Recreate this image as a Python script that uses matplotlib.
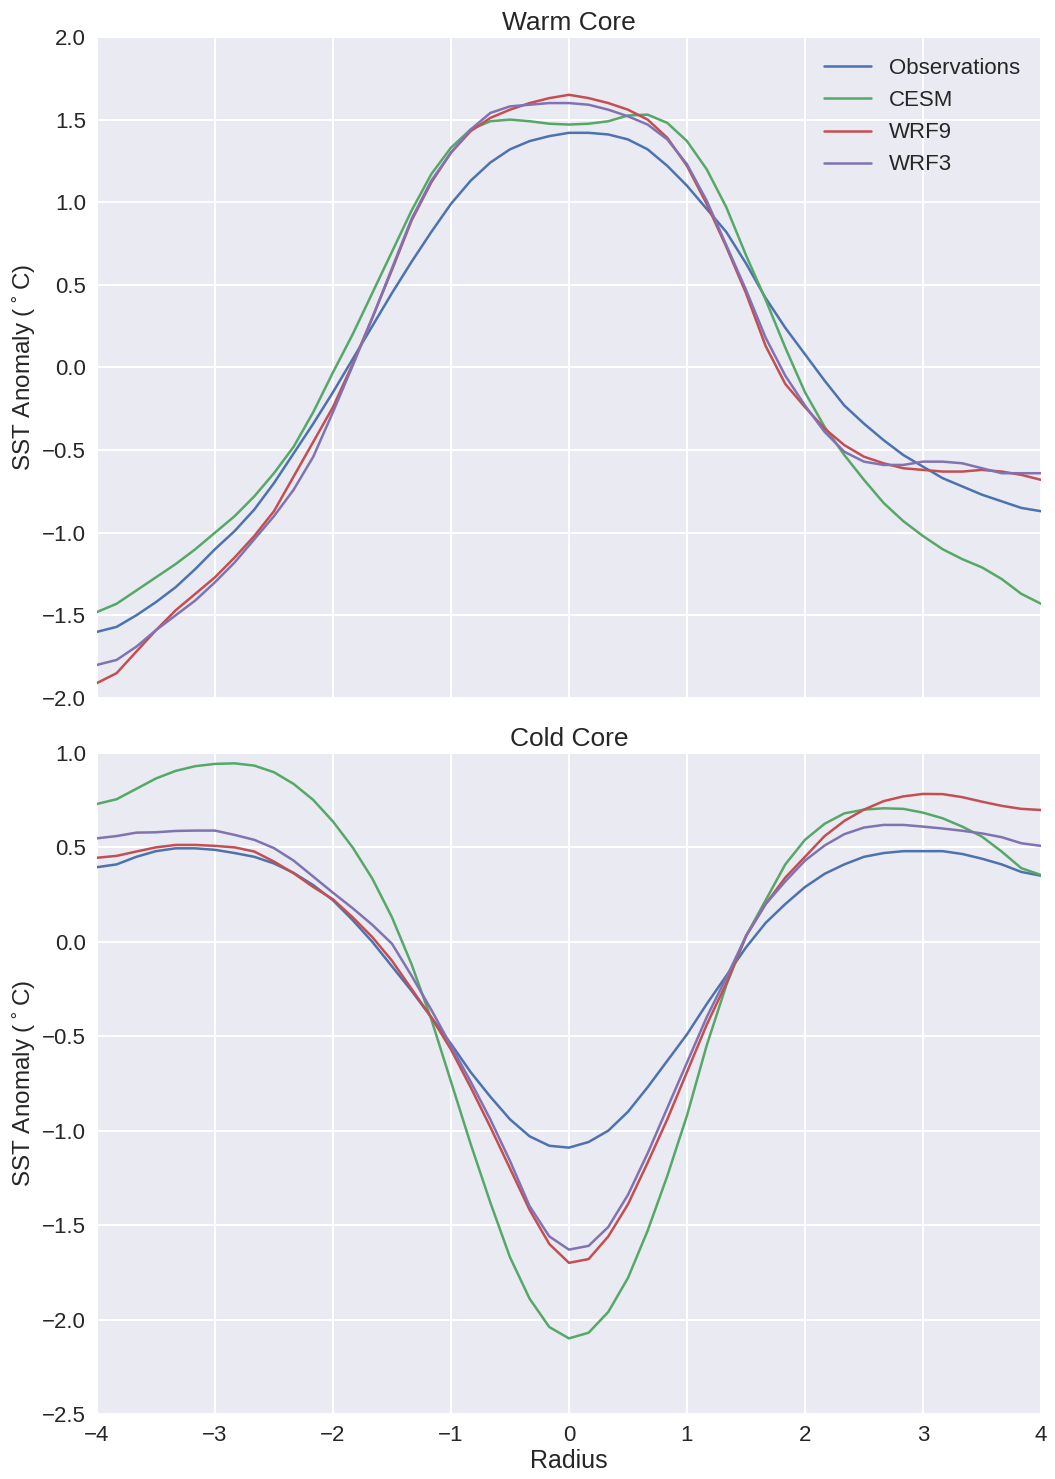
import numpy as np
import matplotlib
matplotlib.use("Agg")
import matplotlib.pyplot as plt
import seaborn as sns

# radius sampled every 1/6 between -4 and 4
radius = np.linspace(-4, 4, 49)

series_names = ["Observations", "CESM", "WRF9", "WRF3"]
series_colors = ["#4C72B0", "#55A868", "#C44E52", "#8172B2"]

warm_obs = [-1.60, -1.57, -1.50, -1.42, -1.33, -1.22, -1.10, -0.99, -0.86, -0.70,
            -0.52, -0.34, -0.15, 0.05, 0.25, 0.45, 0.64, 0.82, 0.99, 1.13,
            1.24, 1.32, 1.37, 1.40, 1.42, 1.42, 1.41, 1.38, 1.32, 1.22,
            1.10, 0.96, 0.82, 0.63, 0.42, 0.24, 0.08, -0.08, -0.23, -0.34,
            -0.44, -0.53, -0.60, -0.67, -0.72, -0.77, -0.81, -0.85, -0.87]
warm_cesm = [-1.48, -1.43, -1.35, -1.27, -1.19, -1.10, -1.00, -0.90, -0.78, -0.64,
             -0.48, -0.27, -0.03, 0.20, 0.45, 0.70, 0.95, 1.17, 1.33, 1.44,
             1.49, 1.50, 1.49, 1.475, 1.47, 1.475, 1.49, 1.525, 1.53, 1.48,
             1.37, 1.20, 0.97, 0.68, 0.41, 0.12, -0.15, -0.36, -0.53, -0.68,
             -0.82, -0.93, -1.02, -1.10, -1.16, -1.21, -1.28, -1.37, -1.43]
warm_wrf9 = [-1.91, -1.85, -1.72, -1.59, -1.47, -1.37, -1.27, -1.15, -1.02, -0.87,
             -0.66, -0.45, -0.24, 0.02, 0.30, 0.59, 0.89, 1.12, 1.30, 1.43,
             1.51, 1.56, 1.60, 1.63, 1.65, 1.63, 1.60, 1.56, 1.50, 1.39,
             1.22, 0.99, 0.73, 0.45, 0.13, -0.10, -0.24, -0.37, -0.47, -0.54,
             -0.58, -0.61, -0.62, -0.63, -0.63, -0.62, -0.63, -0.65, -0.68]
warm_wrf3 = [-1.80, -1.77, -1.69, -1.59, -1.50, -1.41, -1.30, -1.18, -1.04, -0.90,
             -0.74, -0.54, -0.27, 0.01, 0.30, 0.60, 0.90, 1.13, 1.30, 1.44,
             1.54, 1.58, 1.59, 1.60, 1.60, 1.59, 1.56, 1.52, 1.47, 1.38,
             1.23, 1.01, 0.74, 0.47, 0.18, -0.05, -0.23, -0.39, -0.51, -0.57,
             -0.59, -0.59, -0.57, -0.57, -0.58, -0.61, -0.64, -0.64, -0.64]

cold_obs = [0.395, 0.41, 0.45, 0.48, 0.495, 0.495, 0.487, 0.47, 0.45, 0.415,
            0.365, 0.30, 0.22, 0.115, 0.0, -0.13, -0.26, -0.40, -0.54, -0.69,
            -0.82, -0.94, -1.03, -1.08, -1.09, -1.06, -1.00, -0.90, -0.77, -0.63,
            -0.49, -0.33, -0.18, -0.03, 0.10, 0.20, 0.29, 0.36, 0.41, 0.45,
            0.47, 0.48, 0.48, 0.48, 0.465, 0.44, 0.41, 0.37, 0.35]
cold_cesm = [0.73, 0.755, 0.81, 0.865, 0.905, 0.93, 0.942, 0.945, 0.933, 0.898,
             0.836, 0.751, 0.637, 0.50, 0.335, 0.13, -0.12, -0.41, -0.74, -1.07,
             -1.38, -1.67, -1.89, -2.04, -2.10, -2.07, -1.96, -1.78, -1.53, -1.24,
             -0.92, -0.55, -0.23, 0.03, 0.22, 0.41, 0.54, 0.625, 0.68, 0.70,
             0.707, 0.704, 0.684, 0.654, 0.61, 0.557, 0.478, 0.39, 0.354]
cold_wrf9 = [0.445, 0.455, 0.478, 0.50, 0.513, 0.513, 0.508, 0.50, 0.478, 0.425,
             0.363, 0.29, 0.225, 0.13, 0.025, -0.10, -0.25, -0.40, -0.57, -0.77,
             -0.98, -1.20, -1.42, -1.60, -1.70, -1.68, -1.56, -1.39, -1.17, -0.94,
             -0.69, -0.44, -0.22, 0.03, 0.20, 0.34, 0.45, 0.56, 0.64, 0.70,
             0.745, 0.77, 0.783, 0.782, 0.766, 0.742, 0.72, 0.704, 0.698]
cold_wrf3 = [0.548, 0.56, 0.578, 0.58, 0.587, 0.589, 0.589, 0.566, 0.54, 0.496,
             0.43, 0.345, 0.26, 0.178, 0.09, -0.01, -0.18, -0.36, -0.55, -0.74,
             -0.94, -1.16, -1.40, -1.56, -1.63, -1.61, -1.51, -1.34, -1.12, -0.88,
             -0.64, -0.40, -0.19, 0.03, 0.20, 0.32, 0.43, 0.51, 0.57, 0.605,
             0.619, 0.619, 0.61, 0.60, 0.588, 0.574, 0.554, 0.522, 0.508]

x_ticks = [-4, -3, -2, -1, 0, 1, 2, 3, 4]
warm_yticks = [-2.0, -1.5, -1.0, -0.5, 0.0, 0.5, 1.0, 1.5, 2.0]
cold_yticks = [-2.5, -2.0, -1.5, -1.0, -0.5, 0.0, 0.5, 1.0]

sns.set_style("darkgrid", {"axes.facecolor": "#EAEAF2", "grid.color": "white"})
plt.rcParams["font.family"] = ["Liberation Sans", "DejaVu Sans"]
plt.rcParams["axes.unicode_minus"] = True

fig = plt.figure(figsize=(10.55, 14.79), dpi=100)
ax1 = fig.add_axes([0.0919, 0.5281, 0.8948, 0.4469])
ax2 = fig.add_axes([0.0919, 0.0440, 0.8948, 0.4469])

panels = [
    (ax1, "Warm Core", [warm_obs, warm_cesm, warm_wrf9, warm_wrf3], warm_yticks, (-2.0, 2.0)),
    (ax2, "Cold Core", [cold_obs, cold_cesm, cold_wrf9, cold_wrf3], cold_yticks, (-2.5, 1.0)),
]

for ax, title, data, yticks, ylim in panels:
    for name, color, vals in zip(series_names, series_colors, data):
        ax.plot(radius, vals, color=color, lw=1.8, label=name)
    ax.set_xlim(-4, 4)
    ax.set_ylim(*ylim)
    ax.set_xticks(x_ticks)
    ax.set_yticks(yticks)
    ax.set_title(title, fontsize=19, pad=5)
    ax.set_ylabel("SST Anomaly ($^\\circ$C)", fontsize=17.5, labelpad=3)
    ax.grid(True, color="white", lw=1.4)
    ax.tick_params(axis="both", length=0, labelsize=16, pad=8)
    for s in ax.spines.values():
        s.set_visible(False)

ax1.tick_params(labelbottom=False)
ax2.set_xlabel("Radius", fontsize=18, labelpad=2)

ax1.legend(loc="upper right", frameon=False, fontsize=16, handlelength=2.1,
           handletextpad=0.8, labelspacing=0.5, borderaxespad=0.55)

fig.savefig("out.png", dpi=100)
